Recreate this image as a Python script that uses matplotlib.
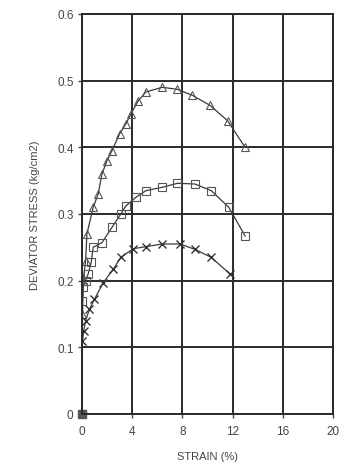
import matplotlib.pyplot as plt

plt.rcParams["font.family"] = ["Liberation Sans", "DejaVu Sans"]

# triangle series
tri_x = [0, 0.05, 0.1, 0.3, 0.4, 0.9, 1.3, 1.6, 2.0, 2.4, 3.0, 3.5, 3.9, 4.5, 5.1, 6.4, 7.6, 8.8, 10.2, 11.6, 13.0]
tri_y = [0, 0.15, 0.2, 0.23, 0.27, 0.31, 0.33, 0.36, 0.38, 0.395, 0.42, 0.435, 0.45, 0.47, 0.483, 0.49, 0.487, 0.478, 0.463, 0.44, 0.40]

# square series
sq_x = [0, 0.05, 0.1, 0.3, 0.5, 0.75, 0.9, 1.6, 2.4, 3.1, 3.5, 4.3, 5.1, 6.4, 7.6, 9.0, 10.3, 11.7, 13.0]
sq_y = [0, 0.17, 0.19, 0.20, 0.21, 0.228, 0.25, 0.257, 0.28, 0.30, 0.312, 0.325, 0.335, 0.34, 0.346, 0.345, 0.335, 0.31, 0.267]

# x-marker series
xs_x = [0, 0.05, 0.15, 0.3, 0.6, 1.0, 1.7, 2.5, 3.1, 4.1, 5.1, 6.4, 7.8, 9.0, 10.3, 11.8]
xs_y = [0, 0.11, 0.125, 0.14, 0.157, 0.172, 0.197, 0.217, 0.235, 0.248, 0.251, 0.255, 0.255, 0.247, 0.235, 0.21]

xticks = [0, 4, 8, 12, 16, 20]
yticks = [0, 0.1, 0.2, 0.3, 0.4, 0.5, 0.6]

line_col = "#3a3a3a"
fig = plt.figure(figsize=(3.44, 4.77), dpi=100)
ax = fig.add_axes([0.238, 0.13, 0.73, 0.8386])

ax.plot(tri_x, tri_y, color=line_col, lw=0.9, marker="^", ms=5.5, mfc="none", mec="#555555", mew=0.8)
ax.plot(sq_x, sq_y, color=line_col, lw=0.9, marker="s", ms=5.5, mfc="none", mec="#555555", mew=0.8)
ax.plot(xs_x, xs_y, color=line_col, lw=0.9, marker="x", ms=5.5, mec="#333333", mew=1.0)
ax.plot([0], [0], marker="s", ms=6, color="#555555", clip_on=False)

ax.set_xlim(0, 20)
ax.set_ylim(0, 0.6)
ax.set_xticks(xticks)
ax.set_yticks(yticks)
ax.set_xticklabels([str(t) for t in xticks])
ax.set_yticklabels(["0", "0.1", "0.2", "0.3", "0.4", "0.5", "0.6"])
ax.grid(True, color="#2a2a2a", lw=1.4)
for s in ax.spines.values():
    s.set_color("#2a2a2a")
    s.set_linewidth(1.4)
ax.tick_params(axis="y", length=3, width=1, color="#444444", labelsize=8.5, labelcolor="#444444", pad=3)
ax.tick_params(axis="x", length=3, width=1, color="#444444", labelsize=8.5, labelcolor="#444444", pad=5)
ax.set_xlabel("STRAIN (%)", fontsize=8, color="#444444", labelpad=10)
ax.set_ylabel("DEVIATOR STRESS (kg/cm2)", fontsize=8, color="#444444", labelpad=12)

fig.savefig("out.png", dpi=100)
